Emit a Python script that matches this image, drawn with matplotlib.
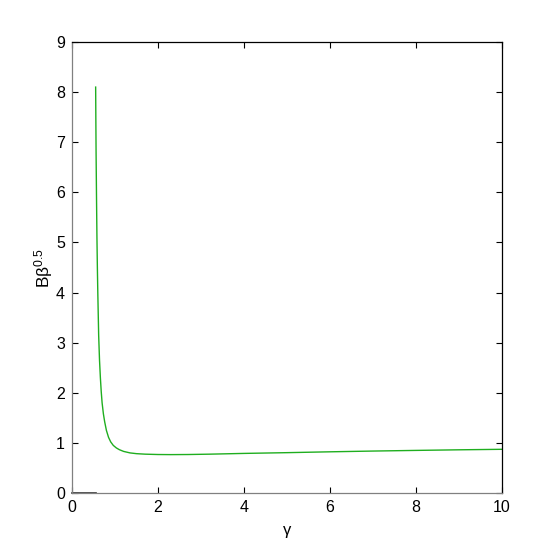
import matplotlib
matplotlib.use("Agg")
import matplotlib.pyplot as plt

plt.rcParams['font.family'] = ['Liberation Sans', 'DejaVu Sans']

# Green curve: B*beta^0.5 versus gamma
gamma = [0.55, 0.555, 0.56, 0.57, 0.58, 0.59, 0.60, 0.62, 0.64, 0.66, 0.68, 0.70,
         0.73, 0.76, 0.80, 0.85, 0.90, 0.96, 1.03, 1.10, 1.20, 1.35, 1.50, 1.70,
         2.00, 2.30, 2.70, 3.20, 4.0, 5.0, 6.0, 7.0, 8.0, 9.0, 10.0]
bbeta = [8.10, 7.40, 6.80, 5.90, 5.10, 4.50, 4.00, 3.15, 2.65, 2.30, 2.02, 1.80,
         1.58, 1.42, 1.25, 1.11, 1.02, 0.95, 0.90, 0.865, 0.83, 0.80, 0.785, 0.775,
         0.768, 0.766, 0.768, 0.775, 0.79, 0.805, 0.822, 0.837, 0.850, 0.862, 0.872]

# Black segment on the axis for gamma below the curve start
zero_x = [0.0, 0.55]
zero_y = [0.0, 0.0]

xticks = [0, 2, 4, 6, 8, 10]
yticks = [0, 1, 2, 3, 4, 5, 6, 7, 8, 9]

fig = plt.figure(figsize=(5.54, 5.54), dpi=100)
ax = fig.add_axes([72/554, 1-493/554, 430/554, 451/554])

ax.plot(gamma, bbeta, color='#1fae1f', lw=1.0)
ax.plot(zero_x, zero_y, color='#333333', lw=1.2, clip_on=False)

ax.set_xlim(0, 10)
ax.set_ylim(0, 9)
ax.set_xticks(xticks)
ax.set_yticks(yticks)
ax.tick_params(direction='in', top=True, right=True, length=4, width=0.8,
               labelsize=11.5, pad=5)
for s in ['left', 'bottom']:
    ax.spines[s].set_color('#808080')
for s in ['top', 'right']:
    ax.spines[s].set_color('black')
for s in ax.spines.values():
    s.set_linewidth(0.9)

ax.set_xlabel('γ', fontsize=12, labelpad=6)
ax.set_ylabel(r'B$\mathregular{\beta^{0.5}}$', fontsize=12.5, labelpad=1)

fig.savefig('out.png', dpi=100)
